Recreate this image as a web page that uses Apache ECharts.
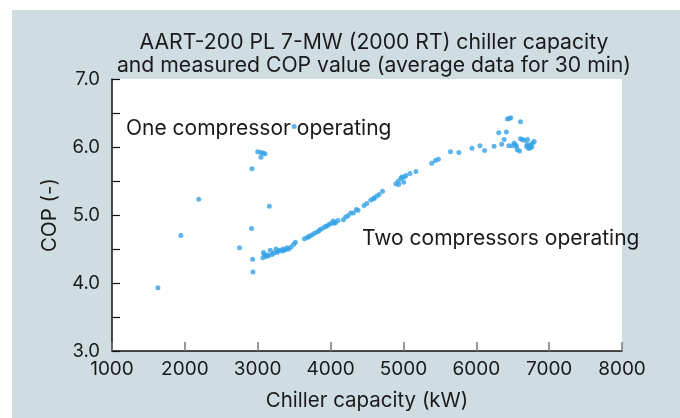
<!DOCTYPE html>
<html>
<head>
	<meta charset="utf-8">
	<title>chiller COP</title>
	<script src="https://cdn.jsdelivr.net/npm/echarts@6/dist/echarts.min.js"></script>
	<style>
		html, body { margin: 0; padding: 0; background: #fff; }
	</style>
</head>
<body>
	<div id="main" style="width: 680px;height: 418px;"></div>
	<script>
		// 读图得到的数据 (kW, COP)
		var capacityKW = [
			1630, 1945, 2190, 2750, 2915, 2930, 2935, 2920, 3000, 3040, 3075, 3100, 3045, 3160, 3500,
			3080, 3072, 3113, 3149, 3172, 3196, 3218, 3251, 3265, 3301, 3334, 3348, 3379, 3403, 3425,
			3458, 3494, 3517, 3090, 3130, 3280, 3360,
			3641, 3679, 3700, 3715, 3748, 3779, 3816, 3840, 3862, 3899, 3931, 3950, 3977, 4010, 4037,
			4050, 4069, 4101, 4175, 4207, 4239, 4276, 4313, 4354, 4377, 4460, 4497, 4552, 4589, 4600,
			4634, 4666, 4713, 4897, 4930, 4934, 4966, 5003, 4979, 5011, 5034, 5090, 5172,
			5389, 5439, 5480, 5646, 5761, 5941, 6051, 6115, 6244, 6308, 6349, 6382, 6413,
			6427, 6451, 6473, 6445, 6492, 6520, 6538, 6552, 6562, 6593, 6607, 6607, 6630, 6658,
			6703, 6690, 6713, 6735, 6749, 6772, 6795, 6735, 6700, 6760
		];
		var cop = [
			3.93, 4.70, 5.23, 4.52, 4.80, 4.35, 4.16, 5.68, 5.93, 5.92, 5.91, 5.90, 5.85, 5.13, 6.30,
			4.45, 4.37, 4.39, 4.40, 4.48, 4.42, 4.44, 4.50, 4.45, 4.48, 4.47, 4.50, 4.49, 4.52, 4.50,
			4.53, 4.57, 4.60, 4.42, 4.41, 4.47, 4.48,
			4.65, 4.67, 4.68, 4.69, 4.71, 4.73, 4.75, 4.77, 4.79, 4.81, 4.83, 4.84, 4.86, 4.88, 4.91,
			4.88, 4.89, 4.92, 4.93, 4.97, 4.99, 5.03, 5.03, 5.08, 5.07, 5.14, 5.17, 5.22, 5.24, 5.25,
			5.28, 5.30, 5.35, 5.46, 5.50, 5.45, 5.54, 5.48, 5.56, 5.56, 5.58, 5.61, 5.64,
			5.76, 5.80, 5.82, 5.93, 5.92, 5.98, 6.02, 5.95, 6.01, 6.21, 6.04, 6.11, 6.22,
			6.41, 6.42, 6.43, 6.02, 6.02, 6.06, 6.03, 6.01, 5.96, 5.94, 6.37, 6.12, 6.11, 6.10,
			6.11, 6.01, 5.98, 6.01, 6.03, 6.06, 6.08, 5.98, 6.04, 6.00
		];
		var xTicks = [1000, 8000, 1000]; // min, max, interval
		var yTicks = [3, 7, 1];

		var points = capacityKW.map(function (x, i) { return [x, cop[i]]; });
		var font = 'Inter, "Liberation Sans", sans-serif';

		var myCharts = echarts.init(document.getElementById('main'));
		var option = {
			animation: false,
			backgroundColor: '#cfdce2',
			// 标题
			title: {
				text: 'AART-200 PL 7-MW (2000 RT) chiller capacity\nand measured COP value (average data for 30 min)',
				left: 369,
				top: 26,
				textAlign: 'center',
				textStyle: {
					fontFamily: font,
					fontSize: 21.2,
					fontWeight: 'normal',
					color: '#1a1a1a',
					lineHeight: 23
				}
			},
			grid: {
				left: 112,
				right: 58,
				top: 79,
				bottom: 67,
				show: true,
				backgroundColor: '#ffffff',
				borderWidth: 0
			},
			xAxis: {
				type: 'value',
				min: xTicks[0],
				max: xTicks[1],
				interval: xTicks[2],
				name: 'Chiller capacity (kW)',
				nameLocation: 'middle',
				nameGap: 39,
				nameTextStyle: { fontFamily: font, fontSize: 20.5, color: '#1a1a1a' },
				axisLine: { lineStyle: { color: '#111', width: 1.5 } },
				axisTick: { inside: true, length: 9, lineStyle: { color: '#777', width: 1.5 } },
				axisLabel: {
					fontFamily: font, fontSize: 19, color: '#1a1a1a', margin: 9,
					formatter: function (v) { return String(v); }
				},
				splitLine: { show: false }
			},
			yAxis: {
				type: 'value',
				min: yTicks[0],
				max: yTicks[1],
				interval: yTicks[2],
				name: 'COP (-)',
				nameLocation: 'middle',
				nameGap: 52,
				nameTextStyle: { fontFamily: font, fontSize: 20.5, color: '#1a1a1a' },
				axisLine: { show: true, lineStyle: { color: '#111', width: 1.5 } },
				axisTick: { show: true, inside: true, length: 8, lineStyle: { color: '#111', width: 1.2 } },
				minorTick: { show: true, splitNumber: 2, length: 8, lineStyle: { color: '#111', width: 1.2 } },
				axisLabel: {
					fontFamily: font, fontSize: 18.5, color: '#1a1a1a', margin: 12,
					formatter: function (v) { return v.toFixed(1); }
				},
				splitLine: { show: false }
			},
			graphic: [
				{ type: 'rect', left: 0, top: 0, shape: { width: 12, height: 418 }, style: { fill: '#fff' } },
				{ type: 'rect', left: 0, top: 0, shape: { width: 680, height: 10 }, style: { fill: '#fff' } },
				{
					type: 'text', left: 126, top: 118, z: 10,
					style: { text: 'One compressor operating', font: '21px ' + font, fill: '#1a1a1a' }
				},
				{
					type: 'text', left: 362, top: 228, z: 10,
					style: { text: 'Two compressors operating', font: '21px ' + font, fill: '#1a1a1a' }
				}
			],
			series: [{
				type: 'scatter',
				data: points,
				symbol: 'circle',
				symbolSize: 5,
				itemStyle: { color: '#35a3e6' }
			}]
		};
		myCharts.setOption(option);
	</script>
</body>
</html>
